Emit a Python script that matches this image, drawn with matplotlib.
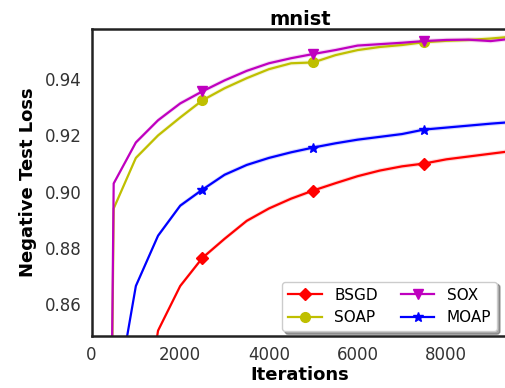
import numpy as np
import matplotlib.pyplot as plt

iters = [0, 500, 1000, 1500, 2000, 2500, 3000, 3500, 4000, 4500, 5000,
         5500, 6000, 6500, 7000, 7500, 8000, 8500, 9000, 9500, 10000]

bsgd = [0.10, 0.60, 0.800, 0.8505, 0.8664, 0.8764, 0.8832, 0.8896, 0.8940, 0.8975, 0.9004,
        0.9030, 0.9055, 0.9075, 0.9090, 0.9100, 0.9115, 0.9125, 0.9135, 0.9145, 0.9152]
soap = [0.10, 0.894, 0.912, 0.920, 0.9264, 0.9325, 0.9368, 0.9404, 0.9436, 0.9457, 0.9460,
        0.9486, 0.9504, 0.9515, 0.9522, 0.9532, 0.9537, 0.9540, 0.9545, 0.9552, 0.9556]
sox = [0.10, 0.9029, 0.9175, 0.9254, 0.9314, 0.9357, 0.9396, 0.9430, 0.9457, 0.9475, 0.9490,
       0.9504, 0.9520, 0.9525, 0.9530, 0.9536, 0.9540, 0.9541, 0.9536, 0.9545, 0.9550]
moap = [0.10, 0.821, 0.8664, 0.8843, 0.8950, 0.9007, 0.9060, 0.9095, 0.9120, 0.9140, 0.9157,
        0.9172, 0.9185, 0.9195, 0.9205, 0.9221, 0.9228, 0.9235, 0.9242, 0.9248, 0.9252]

series = [
    ('BSGD', bsgd, 'r', 'D', 6.5),
    ('SOAP', soap, 'y', 'o', 7),
    ('SOX', sox, 'm', 'v', 7),
    ('MOAP', moap, 'b', '*', 7),
]

fig = plt.figure(figsize=(5.05, 3.88), dpi=100)
ax = fig.add_axes([91.5 / 505, 52 / 388, (508 - 91.5) / 505, 307 / 388])

x = np.array(iters)
for name, vals, c, m, ms in series:
    y = np.array(vals)
    ax.fill_between(x, y - 0.0008, y + 0.0008, color=c, alpha=0.15, lw=0)
    ax.plot(x, y, color=c, marker=m, markersize=ms, markevery=[5, 10, 15],
            lw=1.6, label=name)

ax.set_xlim(0, 9390)
ax.set_ylim(0.8486, 0.9579)
ax.set_xticks([0, 2000, 4000, 6000, 8000])
ax.set_yticks([0.86, 0.88, 0.90, 0.92, 0.94])
ax.set_yticklabels(['0.86', '0.88', '0.90', '0.92', '0.94'])
ax.tick_params(length=0, labelsize=12, labelcolor='#333333', pad=7)
for s in ax.spines.values():
    s.set_linewidth(1.8)
    s.set_color('#222222')

ax.set_title('mnist', fontsize=14, fontweight='bold', pad=3)
ax.set_xlabel('Iterations', fontsize=13, fontweight='bold', labelpad=2)
ax.set_ylabel('Negative Test Loss', fontsize=13, fontweight='bold', labelpad=6)

ax.legend(loc='lower right', ncol=2, fontsize=11, fancybox=True, shadow=True,
          columnspacing=1.5, handlelength=2.2, borderaxespad=0.3,
          bbox_to_anchor=(0.985, 0.0))

fig.savefig('out.png', dpi=100)
